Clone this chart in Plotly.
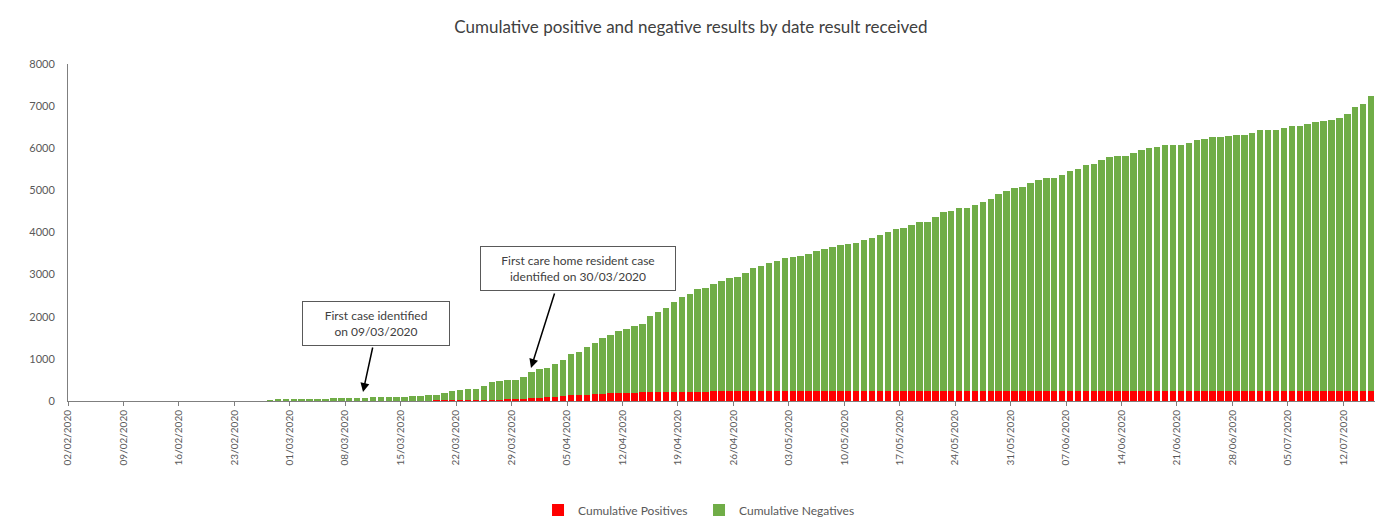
import datetime as dt
import plotly.graph_objects as go

START = dt.date(2020, 2, 2)
N_DAYS = 165  # 02/02/2020 .. 15/07/2020
# each daily bar is centred in its day (Excel "between tick marks" date axis)
dates = [(START + dt.timedelta(days=i)).isoformat() + " 12:00" for i in range(N_DAYS)]

# Cumulative total results (positives + negatives)
totals_from_27feb = [
    20, 40, 40, 45, 45, 48, 50, 55, 70, 72, 75, 78, 80, 90, 92, 100, 102, 105, 110, 115,
    145, 150, 180, 240, 265, 290, 295, 365, 450, 480, 500, 510, 570, 697, 752, 792, 871, 974,
    1109, 1156, 1291, 1386, 1505, 1568, 1663, 1719, 1782, 1837, 2020, 2123, 2218, 2360, 2471,
    2550, 2653, 2693, 2772, 2851, 2915, 2946, 3050, 3166, 3206, 3270, 3333, 3404, 3428, 3451,
    3499, 3570, 3610, 3665, 3705, 3721, 3744, 3824, 3871, 3934, 4006, 4077, 4109, 4172, 4251,
    4259, 4378, 4481, 4520, 4576, 4591, 4663, 4730, 4785, 4916, 4995, 5059, 5090, 5178, 5241,
    5289, 5289, 5368, 5455, 5503, 5613, 5637, 5716, 5787, 5827, 5827, 5898, 5969, 6017, 6041,
    6080, 6080, 6080, 6128, 6199, 6223, 6275, 6275, 6302, 6325, 6325, 6373, 6444, 6444, 6444,
    6492, 6531, 6531, 6579, 6626, 6658, 6666, 6721, 6809, 6990, 7061, 7251,
]
totals = [0] * (N_DAYS - len(totals_from_27feb)) + totals_from_27feb

# Cumulative positives (first case 09/03/2020)
positives_from_09mar = [
    1, 1, 2, 2, 3, 4, 5, 6, 8, 10, 12, 14, 16, 18, 21, 24, 27, 30, 33, 37,
    42, 50, 62, 74, 86, 100, 116, 132, 143, 153, 163, 172, 180, 187, 193, 198, 203, 208,
    212, 215, 218, 220, 222, 224, 225, 226, 227, 228, 229, 230,
    231, 231, 232, 232, 233, 233, 234, 234, 235, 235,
    236, 236, 236, 237, 237, 237, 238, 238, 238, 239,
    239, 239, 239, 240, 240, 240, 240, 241, 241, 241,
    241, 241, 242, 242, 242, 242, 242, 243, 243, 243,
    243, 243, 243, 243, 244, 244, 244, 244, 244, 244,
    244, 244, 244, 245, 245, 245, 245, 245, 245, 245,
    245, 245, 245, 245, 245, 245, 245, 245, 245, 245,
    245, 245, 245, 245, 245, 246, 246, 246, 246,
]
positives = [0] * (N_DAYS - len(positives_from_09mar)) + positives_from_09mar
negatives = [t - p for t, p in zip(totals, positives)]

TEXT = "#595959"
FONT = "Lato"

fig = go.Figure()
fig.add_trace(go.Bar(x=dates, y=positives, name="Cumulative Positives",
                     marker=dict(color="#ff0000", line=dict(width=0))))
fig.add_trace(go.Bar(x=dates, y=negatives, name="Cumulative Negatives",
                     marker=dict(color="#70ad47", line=dict(width=0))))

fig.update_layout(
    barmode="stack",
    bargap=0.18,
    width=1382, height=529,
    margin=dict(l=68, r=7, t=64, b=128),
    paper_bgcolor="white", plot_bgcolor="white",
    font=dict(family=FONT, color=TEXT, size=11),
    title=dict(text="Cumulative positive and negative results by date result received",
               x=0.5, xanchor="center", y=1 - 27 / 529, yanchor="middle",
               font=dict(family=FONT, size=17, color="#404040")),
    legend=dict(orientation="h", xref="container", yref="container",
                x=0.5058, xanchor="center", y=1 - 510 / 529, yanchor="middle",
                font=dict(family=FONT, size=12, color=TEXT), itemwidth=30,
                entrywidth=116, entrywidthmode="pixels",
                traceorder="normal"),
    showlegend=True,
)

fig.update_xaxes(
    type="date", automargin=False,
    range=["2020-02-02", "2020-07-16"],
    tick0="2020-02-02", dtick=7 * 86400000,
    tickformat="%d/%m/%Y", tickangle=-90,
    ticks="outside", ticklen=4, tickcolor="#7f7f7f",
    showline=True, linecolor="#7f7f7f", linewidth=1,
    showgrid=False, zeroline=False,
    tickfont=dict(family=FONT, size=10, color=TEXT),
)
fig.update_yaxes(
    automargin=False,
    range=[0, 8000], dtick=1000,
    showline=True, linecolor="#7f7f7f", linewidth=1,
    showgrid=False, zeroline=False, ticks="",
    ticklabelstandoff=10,
    tickfont=dict(family=FONT, size=11, color=TEXT),
)

# Callout boxes
fig.add_annotation(
    text="First case identified<br>on 09/03/2020",
    xref="paper", yref="paper",
    x=(376 - 68) / 1307, y=(401 - 323) / 337,
    xanchor="center", yanchor="middle", showarrow=False,
    bordercolor="#595959", borderwidth=1, borderpad=6, bgcolor="white",
    width=134, font=dict(family=FONT, size=12, color="#404040"),
)
fig.add_annotation(
    text="First care home resident case<br>identified on 30/03/2020",
    xref="paper", yref="paper",
    x=(578 - 68) / 1307, y=(401 - 268) / 337,
    xanchor="center", yanchor="middle", showarrow=False,
    bordercolor="#595959", borderwidth=1, borderpad=6, bgcolor="white",
    width=182, font=dict(family=FONT, size=12, color="#404040"),
)
# Arrows
fig.add_annotation(
    text="", xref="paper", yref="paper", axref="pixel", ayref="pixel",
    x=(363 - 68) / 1307, y=(401 - 392) / 337, ax=10, ay=-46,
    showarrow=True, arrowhead=2, arrowsize=1.2, arrowwidth=1.5, arrowcolor="black",
)
fig.add_annotation(
    text="", xref="paper", yref="paper", axref="pixel", ayref="pixel",
    x=(531 - 68) / 1307, y=(401 - 368) / 337, ax=24, ay=-76,
    showarrow=True, arrowhead=2, arrowsize=1.2, arrowwidth=1.5, arrowcolor="black",
)

fig.write_html("out.html",
               config={"displayModeBar": False},
               post_script="document.body.style.margin='0';document.body.style.padding='0';")
